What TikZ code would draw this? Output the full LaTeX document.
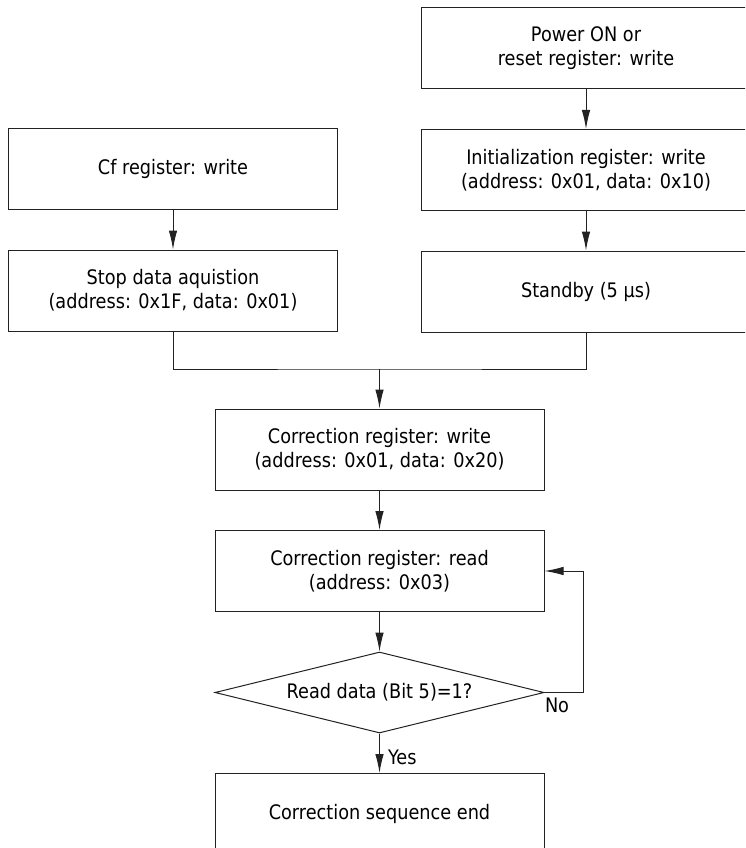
\documentclass[tikz,border=0pt]{standalone}
\usepackage{fontspec}
\setmainfont{DejaVu Sans}[FakeStretch=0.885]
\usepackage{tikz}
\usetikzlibrary{positioning}
\usetikzlibrary{arrows.meta}
\usetikzlibrary{shapes.geometric}
\definecolor{linegray}{RGB}{34,34,34}

\begin{document}
\begin{tikzpicture}[x=1pt,y=-1pt,node distance=39.5pt,>={Latex[length=19pt,width=8.5pt]},
  txt/.style={font=\fontsize{20}{24}\selectfont,text=black},
  box/.style={txt,draw=linegray,line width=1pt,minimum width=329pt,minimum height=81pt,inner sep=0pt,align=center},
  dec/.style={txt,draw=linegray,line width=1pt,diamond,aspect=4.06,minimum width=329pt,minimum height=81pt,inner sep=0pt},
  lbl/.style={txt,inner sep=0pt}]

\useasboundingbox (0,0) rectangle (745,848);
\clip (0,0) rectangle (745,848);

\node[box] (power) at (586,48.5) {Power ON or\\reset register: write};
\node[box,below=of power] (init) {Initialization register: write\\(address: 0x01, data: 0x10)};
\node[box,below=of init] (standby) {Standby (5 µs)};

\node[box] (cf) at (173,169) {Cf register: write};
\node[box,below=of cf] (stop) {Stop data aquistion\\(address: 0x1F, data: 0x01)};

\node[box] (corrw) at (379.5,449.5) {Correction register: write\\(address: 0x01, data: 0x20)};
\node[box,below=of corrw] (corrr) {Correction register: read\\(address: 0x03)};
\node[dec,below=of corrr] (check) {Read data (Bit 5)=1?};
\node[box,below=of check] (done) {Correction sequence end};

\coordinate[above=39.5pt of corrw.north] (join);

\draw[linegray,line width=1pt,->] (power) -- (init);
\draw[linegray,line width=1pt,->] (init) -- (standby);
\draw[linegray,line width=1pt,->] (cf) -- (stop);
\draw[linegray,line width=1pt] (stop.south) |- (join) -| (standby.south);
\draw[linegray,line width=1pt,->] (join) -- (corrw);
\draw[linegray,line width=1pt,->] (corrw) -- (corrr);
\draw[linegray,line width=1pt,->] (corrr) -- (check);
\draw[linegray,line width=1pt,->] (check) -- node[lbl,right,xshift=8pt,pos=0.6] {Yes} (done);
\draw[linegray,line width=1pt,->] (check.east) node[lbl,anchor=north west,yshift=-5pt] {No} -- ++(39,0) |- (corrr.east);
\end{tikzpicture}
\end{document}
